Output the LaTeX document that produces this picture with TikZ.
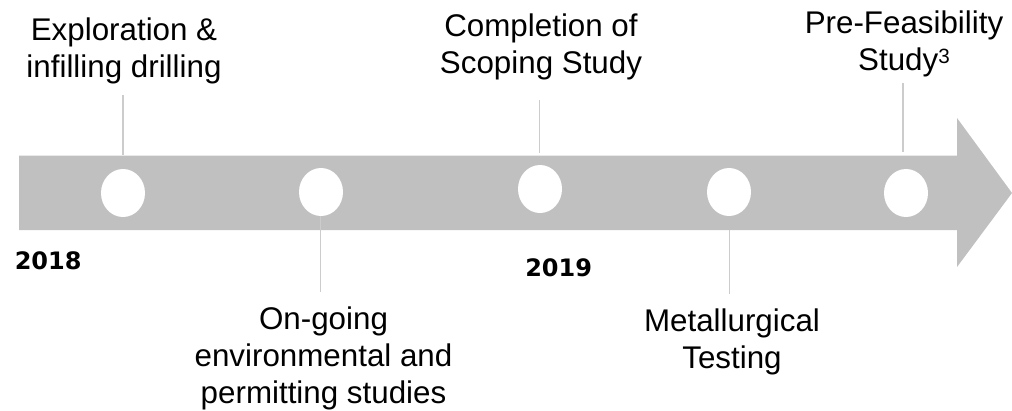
\documentclass[tikz,border=0pt]{standalone}
\usepackage{fontspec}
\setmainfont{Liberation Sans}
\newfontfamily\yearfont{DejaVu Sans}
\usetikzlibrary{shapes.geometric}
\definecolor{barc}{RGB}{192,192,192}
\definecolor{tickc}{RGB}{204,204,204}
\newcommand{\supthree}{\raisebox{5.6pt}{\fontsize{15.5}{15.5}\selectfont 3}}
\begin{document}
\begin{tikzpicture}[x=0.75pt,y=-0.75pt,
  lbl/.style={align=center,inner sep=0,anchor=base,font=\fontsize{23.5}{27.75}\selectfont},
  yr/.style={inner sep=0,anchor=base west,font=\yearfont\bfseries\fontsize{18}{22}\selectfont},
  dot/.style={ellipse,fill=white,draw=none,minimum width=33pt,minimum height=36pt,inner sep=0},
  tickline/.style={draw=tickc,line width=0.9pt}]
\useasboundingbox (0,0) rectangle (1012,410);
\fill[barc] (19,155.5) -- (957,155.5) -- (957,118) -- (1012,193) -- (957,267) -- (957,230) -- (19,230) -- cycle;
\node[dot] (c1) at (123,193) {};
\node[dot] (c2) at (321,192) {};
\node[dot] (c3) at (540,189) {};
\node[dot] (c4) at (729,192) {};
\node[dot] (c5) at (906,193) {};
\node[lbl] (t1) at (124,77.5) {Exploration \&\\infilling drilling};
\node[lbl] (t3) at (541,74) {Completion of\\Scoping Study};
\node[lbl] (t5) at (904,70.5) {Pre-Feasibility\\Study\supthree};
\node[lbl] (t2) at (323.5,403) {On-going\\environmental and\\permitting studies};
\node[lbl] (t4) at (732,368) {Metallurgical\\Testing};
\node[yr] (y1) at (14.5,269.3) {2018};
\node[yr] (y2) at (525,276) {2019};
\coordinate (a1) at (123,95);  \coordinate (b1) at (123,155);
\coordinate (a3) at (539.5,100); \coordinate (b3) at (539.5,153);
\coordinate (a5) at (903,83); \coordinate (b5) at (903,152);
\coordinate (a2) at (320.5,216); \coordinate (b2) at (320.5,292);
\coordinate (a4) at (729.5,230); \coordinate (b4) at (729.5,294);
\draw[tickline] (a1) -- (b1);
\draw[tickline] (a3) -- (b3);
\draw[tickline] (a5) -- (b5);
\draw[tickline] (a2) -- (b2);
\draw[tickline] (a4) -- (b4);
\end{tikzpicture}
\end{document}
